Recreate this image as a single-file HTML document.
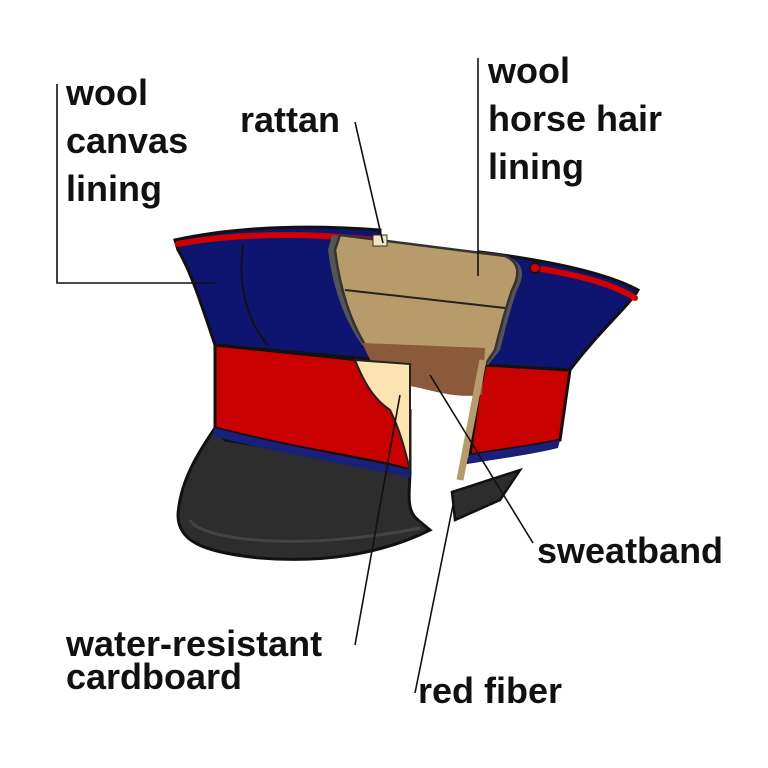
<!DOCTYPE html>
<html><head><meta charset="utf-8"><style>
html,body{margin:0;padding:0;background:#fff;}
svg{display:block;}
text{font-family:"Liberation Sans",sans-serif;font-size:36px;font-weight:bold;fill:#111;}
</style></head><body>
<svg width="768" height="768" viewBox="0 0 768 768" xmlns="http://www.w3.org/2000/svg">
<!-- visor -->
<path d="M215,428 C200,450 180,480 178,515 C178,540 200,552 260,558 C320,563 380,555 430,530 L418,520 C405,510 410,490 410,470 L225,440 Z" fill="#2d2d2d" stroke="#111" stroke-width="3"/>
<path d="M190,520 C200,540 300,552 420,528" fill="none" stroke="#444" stroke-width="3"/>
<path d="M452,492 L455,520 L500,500 L520,470 Z" fill="#2d2d2d" stroke="#111" stroke-width="2.5"/>
<!-- crown -->
<path d="M175,240 C230,228 300,224 380,230 L380,360 L215,345 C200,300 190,270 178,250 Z" fill="#0e1570" stroke="#111" stroke-width="3"/>
<path d="M480,252 C560,262 610,275 638,290 C630,305 600,330 570,370 L480,365 Z" fill="#0e1570" stroke="#111" stroke-width="3"/>
<!-- red band left -->
<path d="M215,345 L360,360 C365,380 385,395 395,400 L410,410 L410,470 C380,460 300,450 215,428 Z" fill="#c80000" stroke="#111" stroke-width="3"/>
<path d="M215,428 C300,450 380,462 410,470 L410,478 C380,470 300,458 212,436 Z" fill="#1a1f7a"/>
<!-- red band right -->
<path d="M485,365 L570,370 L560,440 C540,445 500,450 470,455 L478,400 Z" fill="#c80000" stroke="#111" stroke-width="3"/>
<path d="M470,455 C500,450 540,445 560,440 L558,448 C530,455 490,460 462,465 Z" fill="#1a1f7a"/>
<path d="M178,244 C230,234 300,232 375,240" fill="none" stroke="#d00000" stroke-width="6" stroke-linecap="round"/>
<path d="M535,268 C580,275 615,285 635,298" fill="none" stroke="#d00000" stroke-width="6" stroke-linecap="round"/>
<circle cx="535" cy="268" r="5" fill="#d00000" stroke="#111" stroke-width="1.5"/>
<path d="M243,245 C238,280 245,320 268,345" fill="none" stroke="#111" stroke-width="2"/>
<!-- tan lining -->
<path d="M332,235 L505,256 C525,262 525,275 517,290 C510,310 505,330 500,350 L488,365 L362,345 C345,320 333,290 328,250 Z" fill="#555" />
<path d="M340,235 L505,256 C520,262 520,275 512,290 C505,310 500,330 495,350 L485,365 L365,345 C350,320 340,290 335,250 Z" fill="#b89b6a" stroke="#333" stroke-width="2.5"/>
<path d="M345,290 L505,308" stroke="#222" stroke-width="2"/>
<rect x="373" y="235" width="14" height="11" fill="#f4e6c0" stroke="#333" stroke-width="1"/>
<!-- sweatband -->
<path d="M362,343 L485,348 L482,395 C460,398 440,393 420,388 L380,380 Z" fill="#8b5a3a"/>
<path d="M483,360 C475,400 468,440 460,480" fill="none" stroke="#b89b6a" stroke-width="7"/>
<!-- cardboard -->
<path d="M355,360 L410,364 L410,470 C405,450 400,430 390,410 C375,400 365,385 355,360 Z" fill="#fde3b0" stroke="#222" stroke-width="2"/>
<!-- leader lines -->
<g stroke="#111" stroke-width="1.6" fill="none">
<polyline points="57,84 57,283 215,283"/>
<line x1="355" y1="122" x2="383" y2="243"/>
<line x1="478" y1="58" x2="478" y2="276"/>
<line x1="430" y1="375" x2="533" y2="543"/>
<line x1="355" y1="645" x2="400" y2="395"/>
<line x1="415" y1="693" x2="453" y2="505"/>
</g>
<!-- labels -->
<text x="66" y="105">wool</text>
<text x="66" y="153">canvas</text>
<text x="66" y="201">lining</text>
<text x="240" y="132">rattan</text>
<text x="488" y="83">wool</text>
<text x="488" y="131">horse hair</text>
<text x="488" y="179">lining</text>
<text x="537" y="563">sweatband</text>
<text x="66" y="656">water-resistant</text>
<text x="66" y="689">cardboard</text>
<text x="418" y="703">red fiber</text>
</svg>
</body></html>
